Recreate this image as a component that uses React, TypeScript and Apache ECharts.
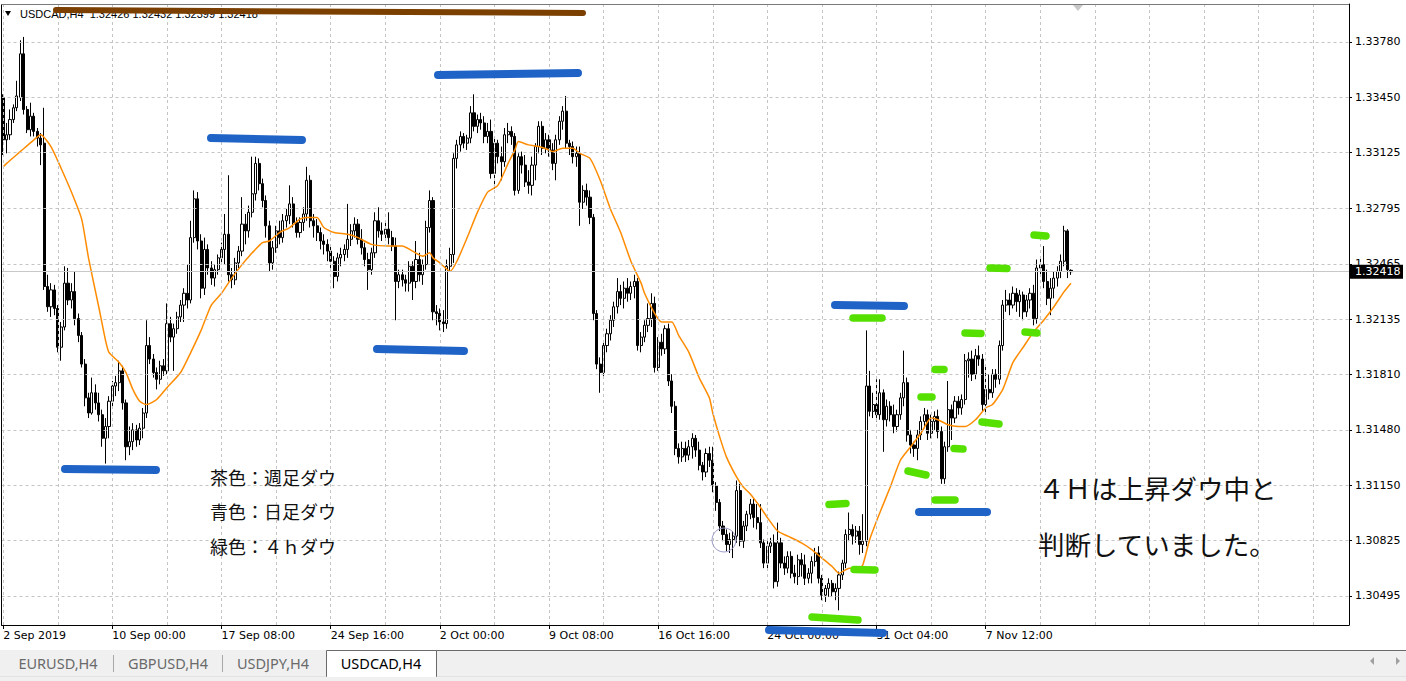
import React, { useEffect, useRef } from 'react';
import * as echarts from 'echarts';

// ---------- DATA ----------
// H4 candles, each [open, close, low, high]
const ohlc: number[][] = [
  [1.3345,1.3320,1.3311,1.3347],[1.3320,1.3323,1.3312,1.3330],[1.3323,1.3332,1.3320,1.3338],[1.3332,1.3339,1.3330,1.3341],
  [1.3339,1.3346,1.3337,1.3355],[1.3345,1.3371,1.3343,1.3379],[1.3371,1.3338,1.3335,1.3381],[1.3338,1.3326,1.3324,1.3340],
  [1.3326,1.3334,1.3322,1.3342],[1.3334,1.3325,1.3322,1.3336],[1.3325,1.3321,1.3316,1.3327],[1.3321,1.3317,1.3305,1.3324],
  [1.3318,1.3233,1.3231,1.3339],[1.3233,1.3221,1.3218,1.3240],[1.3221,1.3231,1.3215,1.3235],[1.3231,1.3220,1.3216,1.3234],
  [1.3220,1.3197,1.3194,1.3222],[1.3197,1.3209,1.3189,1.3212],[1.3209,1.3235,1.3207,1.3245],[1.3235,1.3225,1.3222,1.3244],
  [1.3225,1.3230,1.3220,1.3235],[1.3230,1.3214,1.3210,1.3242],[1.3214,1.3204,1.3200,1.3217],[1.3204,1.3187,1.3185,1.3206],
  [1.3187,1.3167,1.3162,1.3190],[1.3167,1.3158,1.3155,1.3170],[1.3158,1.3170,1.3157,1.3179],[1.3170,1.3164,1.3160,1.3175],
  [1.3164,1.3157,1.3153,1.3170],[1.3157,1.3143,1.3138,1.3160],[1.3143,1.3150,1.3128,1.3155],[1.3150,1.3165,1.3143,1.3168],
  [1.3165,1.3174,1.3162,1.3177],[1.3174,1.3176,1.3168,1.3180],[1.3176,1.3183,1.3171,1.3189],[1.3183,1.3164,1.3160,1.3186],
  [1.3164,1.3138,1.3130,1.3166],[1.3138,1.3141,1.3133,1.3150],[1.3141,1.3148,1.3136,1.3152],[1.3148,1.3142,1.3138,1.3151],
  [1.3142,1.3149,1.3139,1.3152],[1.3149,1.3158,1.3143,1.3161],[1.3158,1.3198,1.3155,1.3213],[1.3198,1.3190,1.3187,1.3203],
  [1.3190,1.3182,1.3179,1.3193],[1.3182,1.3178,1.3172,1.3185],[1.3178,1.3186,1.3175,1.3189],[1.3186,1.3183,1.3180,1.3190],
  [1.3183,1.3211,1.3181,1.3223],[1.3211,1.3203,1.3200,1.3215],[1.3203,1.3208,1.3183,1.3211],[1.3208,1.3215,1.3205,1.3218],
  [1.3215,1.3222,1.3212,1.3225],[1.3222,1.3229,1.3212,1.3232],[1.3229,1.3225,1.3220,1.3246],[1.3225,1.3262,1.3223,1.3272],
  [1.3262,1.3285,1.3259,1.3290],[1.3285,1.3260,1.3255,1.3289],[1.3260,1.3232,1.3226,1.3264],[1.3232,1.3255,1.3228,1.3262],
  [1.3255,1.3244,1.3240,1.3258],[1.3244,1.3238,1.3234,1.3248],[1.3238,1.3243,1.3233,1.3246],[1.3243,1.3250,1.3240,1.3252],
  [1.3250,1.3255,1.3247,1.3259],[1.3255,1.3264,1.3246,1.3276],[1.3264,1.3240,1.3236,1.3299],[1.3240,1.3237,1.3232,1.3244],
  [1.3237,1.3247,1.3234,1.3250],[1.3247,1.3254,1.3244,1.3257],[1.3254,1.3270,1.3251,1.3286],[1.3270,1.3266,1.3258,1.3276],
  [1.3266,1.3277,1.3262,1.3281],[1.3277,1.3288,1.3274,1.3310],[1.3288,1.3306,1.3284,1.3310],[1.3306,1.3294,1.3290,1.3309],
  [1.3294,1.3284,1.3280,1.3297],[1.3284,1.3269,1.3262,1.3287],[1.3269,1.3247,1.3242,1.3272],[1.3247,1.3256,1.3243,1.3260],
  [1.3256,1.3266,1.3253,1.3269],[1.3266,1.3262,1.3258,1.3272],[1.3262,1.3272,1.3259,1.3276],[1.3272,1.3275,1.3268,1.3279],
  [1.3275,1.3282,1.3270,1.3293],[1.3282,1.3271,1.3268,1.3286],[1.3271,1.3265,1.3262,1.3274],[1.3265,1.3271,1.3262,1.3274],
  [1.3271,1.3276,1.3266,1.3280],[1.3276,1.3296,1.3272,1.3304],[1.3296,1.3272,1.3268,1.3299],[1.3272,1.3269,1.3262,1.3276],
  [1.3269,1.3265,1.3260,1.3273],[1.3265,1.3260,1.3255,1.3268],[1.3260,1.3258,1.3252,1.3264],[1.3258,1.3254,1.3248,1.3261],
  [1.3254,1.3248,1.3244,1.3257],[1.3248,1.3239,1.3232,1.3251],[1.3239,1.3250,1.3236,1.3253],[1.3250,1.3252,1.3245,1.3256],
  [1.3252,1.3255,1.3248,1.3258],[1.3255,1.3261,1.3250,1.3282],[1.3261,1.3266,1.3257,1.3270],[1.3266,1.3270,1.3262,1.3274],
  [1.3270,1.3261,1.3258,1.3273],[1.3261,1.3256,1.3252,1.3267],[1.3256,1.3249,1.3245,1.3259],[1.3249,1.3243,1.3231,1.3253],
  [1.3243,1.3253,1.3240,1.3256],[1.3253,1.3272,1.3250,1.3277],[1.3272,1.3266,1.3262,1.3280],[1.3266,1.3264,1.3260,1.3271],
  [1.3264,1.3267,1.3261,1.3272],[1.3267,1.3262,1.3258,1.3277],[1.3262,1.3257,1.3254,1.3266],[1.3257,1.3236,1.3213,1.3262],
  [1.3236,1.3240,1.3232,1.3243],[1.3240,1.3237,1.3233,1.3243],[1.3237,1.3235,1.3230,1.3240],[1.3235,1.3245,1.3230,1.3248],
  [1.3245,1.3236,1.3225,1.3248],[1.3236,1.3249,1.3232,1.3260],[1.3249,1.3240,1.3236,1.3253],[1.3240,1.3246,1.3234,1.3249],
  [1.3246,1.3268,1.3243,1.3272],[1.3268,1.3284,1.3265,1.3290],[1.3284,1.3218,1.3213,1.3286],[1.3218,1.3217,1.3210,1.3222],
  [1.3217,1.3212,1.3207,1.3220],[1.3212,1.3211,1.3206,1.3219],[1.3211,1.3245,1.3208,1.3249],[1.3245,1.3252,1.3242,1.3256],
  [1.3252,1.3309,1.3247,1.3312],[1.3309,1.3317,1.3303,1.3320],[1.3317,1.3322,1.3313,1.3325],[1.3322,1.3318,1.3315,1.3324],
  [1.3318,1.3321,1.3314,1.3323],[1.3321,1.3336,1.3318,1.3340],[1.3336,1.3328,1.3325,1.3347],[1.3328,1.3332,1.3324,1.3335],
  [1.3332,1.3330,1.3326,1.3336],[1.3330,1.3322,1.3318,1.3334],[1.3322,1.3325,1.3318,1.3330],[1.3325,1.3300,1.3297,1.3332],
  [1.3300,1.3318,1.3291,1.3321],[1.3318,1.3310,1.3306,1.3320],[1.3310,1.3307,1.3296,1.3316],[1.3307,1.3323,1.3304,1.3327],
  [1.3323,1.3325,1.3318,1.3330],[1.3325,1.3322,1.3317,1.3328],[1.3322,1.3290,1.3287,1.3324],[1.3290,1.3310,1.3288,1.3312],
  [1.3310,1.3305,1.3300,1.3313],[1.3305,1.3295,1.3292,1.3311],[1.3295,1.3293,1.3288,1.3302],[1.3293,1.3305,1.3287,1.3310],
  [1.3305,1.3316,1.3296,1.3318],[1.3316,1.3328,1.3312,1.3331],[1.3328,1.3315,1.3311,1.3331],[1.3315,1.3320,1.3312,1.3324],
  [1.3320,1.3314,1.3310,1.3323],[1.3314,1.3306,1.3302,1.3318],[1.3306,1.3320,1.3296,1.3323],[1.3320,1.3331,1.3317,1.3334],
  [1.3331,1.3337,1.3326,1.3340],[1.3337,1.3318,1.3315,1.3346],[1.3318,1.3316,1.3311,1.3320],[1.3316,1.3310,1.3306,1.3319],
  [1.3310,1.3312,1.3304,1.3316],[1.3312,1.3283,1.3269,1.3316],[1.3283,1.3290,1.3279,1.3293],[1.3290,1.3286,1.3281,1.3294],
  [1.3286,1.3274,1.3270,1.3290],[1.3274,1.3217,1.3213,1.3276],[1.3217,1.3187,1.3184,1.3219],[1.3187,1.3182,1.3170,1.3191],
  [1.3182,1.3198,1.3180,1.3201],[1.3198,1.3205,1.3194,1.3208],[1.3205,1.3213,1.3201,1.3216],[1.3213,1.3221,1.3209,1.3224],
  [1.3221,1.3230,1.3217,1.3238],[1.3230,1.3226,1.3222,1.3234],[1.3226,1.3232,1.3220,1.3236],[1.3232,1.3229,1.3224,1.3238],
  [1.3229,1.3233,1.3225,1.3236],[1.3233,1.3236,1.3226,1.3240],[1.3236,1.3198,1.3195,1.3238],[1.3198,1.3203,1.3194,1.3206],
  [1.3203,1.3210,1.3200,1.3213],[1.3210,1.3214,1.3206,1.3223],[1.3214,1.3223,1.3209,1.3229],[1.3223,1.3185,1.3182,1.3227],
  [1.3185,1.3200,1.3183,1.3203],[1.3200,1.3196,1.3192,1.3205],[1.3196,1.3208,1.3193,1.3210],[1.3208,1.3177,1.3174,1.3211],
  [1.3177,1.3162,1.3158,1.3181],[1.3162,1.3137,1.3133,1.3165],[1.3137,1.3132,1.3128,1.3140],[1.3132,1.3137,1.3129,1.3141],
  [1.3137,1.3133,1.3129,1.3141],[1.3133,1.3138,1.3130,1.3142],[1.3138,1.3143,1.3131,1.3146],[1.3143,1.3136,1.3132,1.3145],
  [1.3136,1.3127,1.3124,1.3141],[1.3127,1.3123,1.3118,1.3129],[1.3123,1.3134,1.3120,1.3137],[1.3134,1.3130,1.3126,1.3138],
  [1.3130,1.3115,1.3111,1.3138],[1.3115,1.3105,1.3100,1.3117],[1.3105,1.3091,1.3088,1.3107],[1.3091,1.3086,1.3082,1.3094],
  [1.3086,1.3080,1.3076,1.3089],[1.3080,1.3083,1.3075,1.3087],[1.3083,1.3085,1.3072,1.3088],[1.3085,1.3112,1.3081,1.3118],
  [1.3112,1.3082,1.3079,1.3116],[1.3082,1.3091,1.3078,1.3094],[1.3091,1.3098,1.3088,1.3100],[1.3098,1.3104,1.3095,1.3107],
  [1.3104,1.3096,1.3090,1.3107],[1.3096,1.3093,1.3089,1.3104],[1.3093,1.3081,1.3078,1.3104],[1.3081,1.3069,1.3066,1.3083],
  [1.3069,1.3079,1.3066,1.3082],[1.3079,1.3081,1.3075,1.3084],[1.3081,1.3058,1.3054,1.3086],[1.3058,1.3081,1.3055,1.3093],
  [1.3081,1.3069,1.3066,1.3084],[1.3069,1.3066,1.3062,1.3073],[1.3066,1.3073,1.3063,1.3076],[1.3073,1.3063,1.3060,1.3076],
  [1.3063,1.3061,1.3057,1.3068],[1.3061,1.3071,1.3056,1.3074],[1.3071,1.3068,1.3061,1.3075],[1.3068,1.3060,1.3056,1.3074],
  [1.3060,1.3063,1.3057,1.3066],[1.3063,1.3070,1.3057,1.3073],[1.3070,1.3075,1.3067,1.3078],[1.3075,1.3060,1.3057,1.3079],
  [1.3060,1.3050,1.3047,1.3062],[1.3050,1.3054,1.3046,1.3056],[1.3054,1.3057,1.3049,1.3060],[1.3057,1.3052,1.3049,1.3059],
  [1.3052,1.3054,1.3047,1.3057],[1.3054,1.3062,1.3041,1.3064],[1.3062,1.3069,1.3059,1.3071],[1.3069,1.3086,1.3066,1.3089],
  [1.3086,1.3089,1.3082,1.3099],[1.3089,1.3085,1.3080,1.3092],[1.3085,1.3088,1.3081,1.3091],[1.3088,1.3080,1.3074,1.3091],
  [1.3080,1.3082,1.3075,1.3098],[1.3082,1.3174,1.3079,1.3207],[1.3174,1.3159,1.3156,1.3183],[1.3159,1.3163,1.3155,1.3170],
  [1.3163,1.3157,1.3153,1.3178],[1.3157,1.3170,1.3154,1.3178],[1.3170,1.3154,1.3135,1.3172],[1.3154,1.3162,1.3150,1.3166],
  [1.3162,1.3157,1.3153,1.3165],[1.3157,1.3150,1.3146,1.3163],[1.3150,1.3157,1.3147,1.3160],[1.3157,1.3167,1.3154,1.3170],
  [1.3167,1.3176,1.3162,1.3195],[1.3176,1.3145,1.3141,1.3179],[1.3145,1.3139,1.3134,1.3148],[1.3139,1.3137,1.3132,1.3141],
  [1.3137,1.3145,1.3130,1.3148],[1.3145,1.3153,1.3142,1.3156],[1.3153,1.3157,1.3149,1.3161],[1.3157,1.3146,1.3142,1.3160],
  [1.3146,1.3153,1.3143,1.3157],[1.3153,1.3156,1.3148,1.3159],[1.3156,1.3147,1.3143,1.3160],[1.3147,1.3119,1.3116,1.3150],
  [1.3119,1.3138,1.3116,1.3141],[1.3138,1.3160,1.3135,1.3177],[1.3160,1.3155,1.3142,1.3163],[1.3155,1.3165,1.3152,1.3168],
  [1.3165,1.3161,1.3157,1.3168],[1.3161,1.3166,1.3157,1.3169],[1.3166,1.3189,1.3163,1.3193],[1.3189,1.3190,1.3179,1.3194],
  [1.3190,1.3181,1.3177,1.3195],[1.3181,1.3192,1.3178,1.3196],[1.3192,1.3190,1.3186,1.3198],[1.3190,1.3163,1.3159,1.3193],
  [1.3163,1.3172,1.3158,1.3187],[1.3172,1.3170,1.3166,1.3181],[1.3170,1.3181,1.3167,1.3184],[1.3181,1.3178,1.3173,1.3184],
  [1.3178,1.3198,1.3175,1.3201],[1.3198,1.3222,1.3195,1.3225],[1.3222,1.3225,1.3218,1.3231],[1.3225,1.3222,1.3216,1.3229],
  [1.3222,1.3229,1.3220,1.3233],[1.3229,1.3224,1.3218,1.3232],[1.3224,1.3228,1.3215,1.3231],[1.3228,1.3218,1.3213,1.3230],
  [1.3218,1.3225,1.3215,1.3228],[1.3225,1.3229,1.3220,1.3232],[1.3229,1.3214,1.3210,1.3234],[1.3214,1.3244,1.3211,1.3249],
  [1.3244,1.3246,1.3240,1.3250],[1.3246,1.3236,1.3232,1.3257],[1.3236,1.3226,1.3222,1.3243],[1.3226,1.3232,1.3216,1.3238],
  [1.3232,1.3238,1.3226,1.3242],[1.3238,1.3242,1.3233,1.3245],[1.3242,1.3248,1.3238,1.3252],[1.3248,1.3266,1.3245,1.3269],
  [1.3266,1.3243,1.3238,1.3267],[1.32426,1.32418,1.32399,1.32432],
];

// moving average readings (bar index -> value)
const maIndex = [0,1,5,9,11,14,17,20,23,25,28,30,31,34,36,38,40,42,45,48,52,55,58,61,64,67,70,73,76,78,81,84,87,89,92,94,97,101,104,108,113,117,120,123,125,126,128,131,133,136,139,142,145,148,150,151,154,157,160,161,164,167,169,172,175,178,181,184,187,188,191,193,196,198,201,204,207,208,210,212,215,217,219,222,224,227,230,234,237,240,243,245,248,251,252,254,257,260,263,266,269,272,274,277,280,282,285,288,290,293,296,299,302,305,308,311,313];
const maValue = [1.3304,1.3306,1.3313,1.3320,1.3323,1.3316,1.3303,1.3289,1.3273,1.3250,1.3221,1.3201,1.3194,1.3188,1.3182,1.3172,1.3165,1.3163,1.3166,1.3173,1.3182,1.3194,1.3207,1.3222,1.3229,1.3238,1.3246,1.3253,1.3259,1.3260,1.3265,1.3268,1.3273,1.3274,1.3274,1.3268,1.3265,1.3264,1.3262,1.3258,1.3257,1.3257,1.3254,1.3251,1.3253,1.3250,1.3247,1.3242,1.3248,1.3262,1.3277,1.3289,1.3293,1.3306,1.3314,1.3319,1.3317,1.3316,1.3314,1.3313,1.3315,1.3315,1.3312,1.3309,1.3296,1.3279,1.3265,1.3248,1.3235,1.3229,1.3217,1.3212,1.3212,1.3204,1.3194,1.3179,1.3167,1.3158,1.3144,1.3132,1.3120,1.3114,1.3110,1.3102,1.3096,1.3088,1.3085,1.3081,1.3077,1.3072,1.3067,1.3063,1.3066,1.3066,1.3068,1.3083,1.3099,1.3114,1.3130,1.3138,1.3146,1.3155,1.3154,1.3151,1.3150,1.3150,1.3154,1.3161,1.3163,1.3172,1.3188,1.3197,1.3206,1.3213,1.3221,1.3230,1.3235];

const dateTickIndex = [0,32,64,96,128,160,192,224,256,288];
const dateTickLabels = ['2 Sep 2019','10 Sep 00:00','17 Sep 08:00','24 Sep 16:00','2 Oct 00:00','9 Oct 08:00','16 Oct 16:00','24 Oct 00:00','31 Oct 04:00','7 Nov 12:00'];
const priceTicks = [1.3378,1.3345,1.33125,1.32795,1.32465,1.32135,1.3181,1.3148,1.3115,1.30825,1.30495];
const lastPrice = 1.32418;
const headerQuote = ['1.32426','1.32432','1.32399','1.32418'];
const symbolName = 'USDCAD,H4';
const legendNotes = ['茶色：週足ダウ','青色：日足ダウ','緑色：４ｈダウ'];
const commentLines = ['４Ｈは上昇ダウ中と','判断していました。'];
const tabNames = ['EURUSD,H4','GBPUSD,H4','USDJPY,H4','USDCAD,H4'];

// hand-drawn annotation strokes (pixel overlay)
const brownStrokes = [[56,10,583,13]];
const blueStrokes = [[65,469,156,470],[211,138,302,140],[438,75,578,73],[377,349,464,351],[835,305,904,306],[769,630,883,633],[919,512,987,512]];
const greenStrokes = [[1034,235,1046,236],[990,268,1007,268.5],[853,318,882,318],[965,333,981,333.5],[1025,332,1037,333],[935,369.5,944,369.5],[921,397,932,397],[982,422,999,424],[954,448.5,963,449],[908,471,926,475],[935,500,955,500],[829,504.5,846,503.5],[854,569.5,875,570],[812,617,858,620]];

// ---------- LAYOUT ----------
const SLOTS = 395;
const Y_MIN = 1.30323;
const Y_MAX = 1.340053;
const GRID = { left: 1.5, top: 4, width: 1347.5, height: 621 };
const AXIS_FONT = 'DejaVu Sans';
const JP_FONT = '"Noto Sans CJK JP", sans-serif';

export default function App() {
  const ref = useRef<HTMLDivElement>(null);
  useEffect(() => {
    const el = ref.current;
    if (!el) return;
    const chart = echarts.init(el, null, { renderer: 'svg' });
    const categories = Array.from({ length: SLOTS }, (_, i) => String(i));
    const vGrid = Array.from({ length: 25 }, (_, k) => k * 16);
    const isTick = (i: number) => dateTickIndex.indexOf(i) >= 0;

    const gridLineStyle = { color: '#c4c4c4', type: [3, 3] as any, width: 1 };
    chart.setOption({
      animation: false,
      backgroundColor: '#ffffff',
      grid: { ...GRID, show: false },
      xAxis: {
        type: 'category',
        data: categories,
        boundaryGap: true,
        axisLine: { show: true, lineStyle: { color: '#000', width: 1 } },
        axisTick: { show: true, alignWithLabel: true, interval: (i: number) => isTick(i), length: 4, lineStyle: { color: '#000' } },
        axisLabel: {
          interval: (i: number) => isTick(i),
          formatter: (_v: string, i: number) => dateTickLabels[dateTickIndex.indexOf(i)] ?? '',
          align: 'left', margin: 5, color: '#000', fontSize: 11, fontFamily: AXIS_FONT, hideOverlap: false,
        },
        splitLine: { show: false },
      },
      yAxis: {
        type: 'value',
        position: 'right',
        min: Y_MIN,
        max: Y_MAX,
        axisLine: { show: true, lineStyle: { color: '#000', width: 1 } },
        axisTick: { show: true, customValues: priceTicks, length: 3, lineStyle: { color: '#000' } },
        axisLabel: { customValues: priceTicks, formatter: (v: number) => v.toFixed(5), margin: 6, color: '#000', fontSize: 11, fontFamily: AXIS_FONT },
        splitLine: { show: false },
      },
      series: [
        {
          type: 'line', name: 'grid', data: [], z: 1, silent: true,
          markLine: {
            silent: true, symbol: ['none', 'none'], animation: false, precision: 6,
            label: { show: false },
            lineStyle: gridLineStyle,
            data: [
              ...priceTicks.map((v) => ({ yAxis: v })),
              ...vGrid.map((i) => ({ xAxis: i })),
              { yAxis: lastPrice, lineStyle: { color: '#c8c8c8', type: 'solid', width: 1 } },
            ],
          },
        },
        {
          type: 'candlestick', name: symbolName, data: ohlc, z: 3, barWidth: 2.6,
          itemStyle: { color: '#ffffff', color0: '#000000', borderColor: '#000000', borderColor0: '#000000', borderWidth: 1 },
        },
        {
          type: 'line', name: 'MA', data: maIndex.map((i, k) => [i, maValue[k]]), z: 4,
          showSymbol: false, symbol: 'none', smooth: 0.2,
          lineStyle: { color: '#ff8c00', width: 1.5 },
        },
      ],
    });

    const py = chart.convertToPixel({ yAxisIndex: 0 }, lastPrice) as number;
    const stroke = (arr: number[][], color: string, w: number) =>
      arr.map((s) => ({ type: 'line', z: 60, silent: true, shape: { x1: s[0], y1: s[1], x2: s[2], y2: s[3] }, style: { stroke: color, lineWidth: w, lineCap: 'round' } }));
    const tabCenters = [58, 168, 273, 381];
    const elements: any[] = [
      // frame
      { type: 'line', z: 40, shape: { x1: 1.5, y1: 4.5, x2: 1349, y2: 4.5 }, style: { stroke: '#7a7a7a', lineWidth: 1 } },
      { type: 'line', z: 40, shape: { x1: 1.5, y1: 4.5, x2: 1.5, y2: 625 }, style: { stroke: '#000', lineWidth: 1 } },
      // header
      { type: 'polygon', z: 50, shape: { points: [[5, 11], [11, 11], [8, 16]] }, style: { fill: '#000' } },
      { type: 'text', z: 50, x: 20, y: 14, style: { text: `${symbolName}  ${headerQuote.join(' ')}`, fill: '#000', fontSize: 11, fontFamily: 'Liberation Sans', verticalAlign: 'middle' } },
      { type: 'polygon', z: 50, shape: { points: [[1073, 5], [1083, 5], [1078, 11]] }, style: { fill: '#c8c8c8' } },
      // circle marker
      { type: 'circle', z: 50, shape: { cx: 724, cy: 540, r: 12 }, style: { fill: 'none', stroke: '#9c9cc8', lineWidth: 1 } },
      // current price box
      { type: 'rect', z: 55, shape: { x: 1350, y: py - 7, width: 53, height: 14 }, style: { fill: '#000' } },
      { type: 'text', z: 56, x: 1355, y: py, style: { text: lastPrice.toFixed(5), fill: '#fff', fontSize: 11, fontFamily: AXIS_FONT, verticalAlign: 'middle' } },
      // notes
      ...legendNotes.map((t, k) => ({ type: 'text', z: 50, x: 210, y: [477, 511, 546][k], style: { text: t, fill: '#111', fontSize: 18, fontFamily: JP_FONT, verticalAlign: 'middle' } })),
      ...commentLines.map((t, k) => ({ type: 'text', z: 50, x: 1038, y: [487, 543][k], style: { text: t, fill: '#111', fontSize: 26.5, fontFamily: JP_FONT, verticalAlign: 'middle' } })),
      // annotation strokes
      ...stroke(brownStrokes, '#7b3f00', 6),
      ...stroke(blueStrokes, '#1f63c6', 8),
      ...stroke(greenStrokes, '#55e000', 7.5),
      // tab bar
      { type: 'rect', z: 70, shape: { x: 0, y: 650, width: 1406, height: 31 }, style: { fill: '#f0f0f0' } },
      { type: 'line', z: 71, shape: { x1: 436, y1: 650.5, x2: 1406, y2: 650.5 }, style: { stroke: '#6a6a6a', lineWidth: 1 } },
      { type: 'line', z: 71, shape: { x1: 0, y1: 676.5, x2: 1406, y2: 676.5 }, style: { stroke: '#e2e2e2', lineWidth: 1 } },
      { type: 'rect', z: 72, shape: { x: 326.5, y: 650.5, width: 110, height: 26 }, style: { fill: '#ffffff', stroke: '#6a6a6a', lineWidth: 1 } },
      { type: 'line', z: 73, shape: { x1: 327, y1: 676.5, x2: 436, y2: 676.5 }, style: { stroke: '#ffffff', lineWidth: 1 } },
      { type: 'line', z: 71, shape: { x1: 113.5, y1: 655, x2: 113.5, y2: 672 }, style: { stroke: '#a8a8a8', lineWidth: 1 } },
      { type: 'line', z: 71, shape: { x1: 222.5, y1: 655, x2: 222.5, y2: 672 }, style: { stroke: '#a8a8a8', lineWidth: 1 } },
      ...tabNames.map((t, k) => ({ type: 'text', z: 74, x: tabCenters[k], y: 663, style: { text: t, fill: k === 3 ? '#000' : '#6a6a6a', fontSize: 14.5, fontFamily: 'Noto Sans', align: 'center', verticalAlign: 'middle' } })),
      { type: 'polygon', z: 74, shape: { points: [[1374, 657], [1374, 665], [1370, 661]] }, style: { fill: '#a0a0a0' } },
      { type: 'polygon', z: 74, shape: { points: [[1396, 657], [1396, 665], [1400, 661]] }, style: { fill: '#a0a0a0' } },
    ];
    chart.setOption({ graphic: { elements } });
    return () => chart.dispose();
  }, []);
  return <div ref={ref} style={{ position: 'fixed', left: 0, top: 0, width: 1406, height: 681, background: '#fff' }} />;
}
